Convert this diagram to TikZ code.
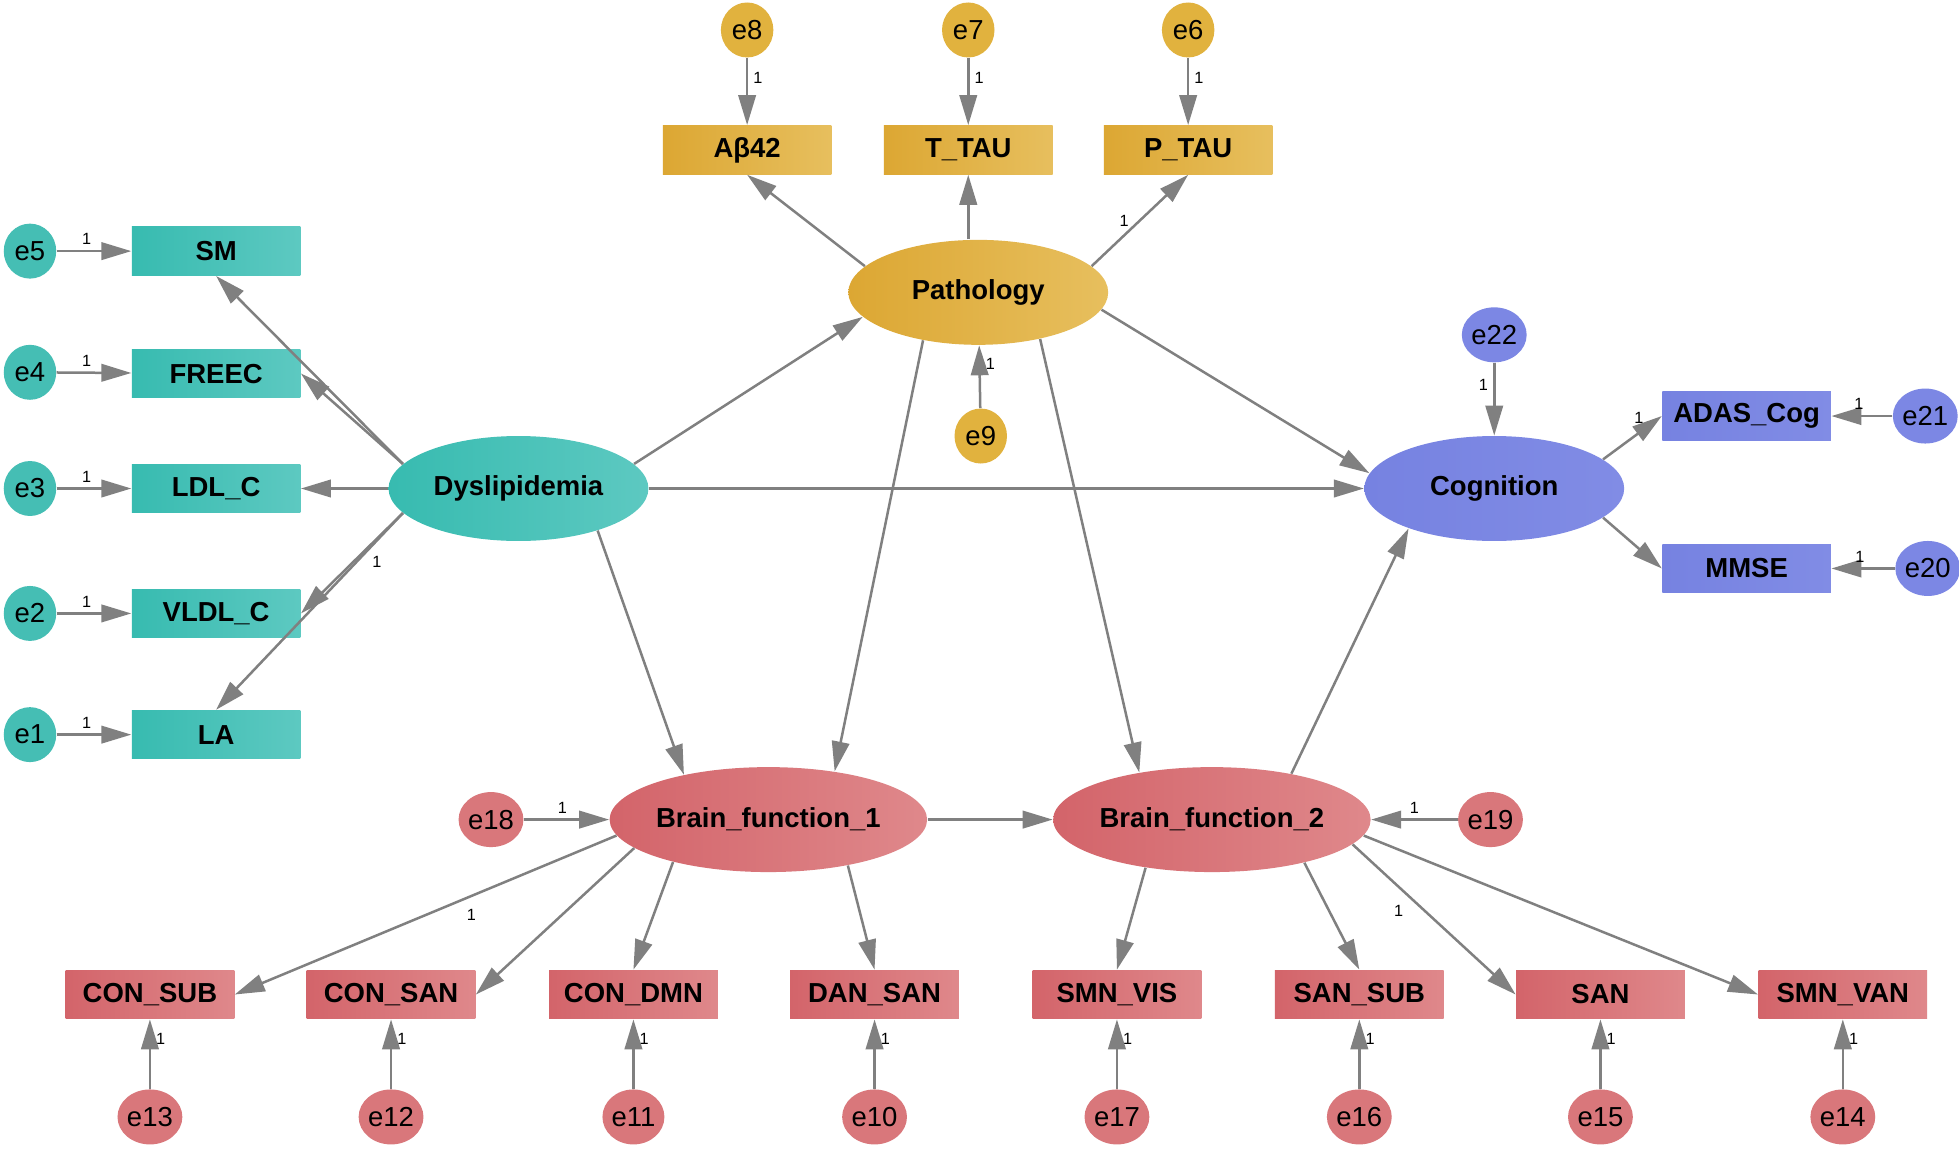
\documentclass[tikz,border=0pt]{standalone}
\usepackage{fontspec}
\setmainfont{Liberation Sans}
\usetikzlibrary{arrows.meta,shapes.geometric,calc}
\definecolor{tealA}{HTML}{37BBB0}
\definecolor{tealB}{HTML}{5DC9C1}
\definecolor{tealE}{HTML}{45BEB4}
\definecolor{goldA}{HTML}{DCA733}
\definecolor{goldB}{HTML}{E7BF5E}
\definecolor{goldE}{HTML}{E1B23E}
\definecolor{blueA}{HTML}{7682E1}
\definecolor{blueB}{HTML}{818CE5}
\definecolor{blueE}{HTML}{7C87E4}
\definecolor{redA}{HTML}{D3646A}
\definecolor{redB}{HTML}{DF888B}
\definecolor{redE}{HTML}{D9777B}
\definecolor{arrgray}{HTML}{808080}
\begin{document}
\begin{tikzpicture}[x=0.5pt,y=-0.5pt,
  obs/.style={rectangle,minimum width=67.5pt,minimum height=19.5pt,inner sep=0pt,font=\bfseries\fontsize{11}{13}\selectfont},
  lat/.style={ellipse,minimum width=104pt,minimum height=42pt,inner sep=0pt,font=\bfseries\fontsize{11}{13}\selectfont},
  err/.style={ellipse,minimum width=21pt,minimum height=22pt,inner sep=0pt,font=\fontsize{11}{13}\selectfont},
  tl/.style={left color=tealA,right color=tealB},
  gd/.style={left color=goldA,right color=goldB},
  bl/.style={left color=blueA,right color=blueB},
  rd/.style={left color=redA,right color=redB},
  tle/.style={fill=tealE},
  gde/.style={fill=goldE},
  ble/.style={fill=blueE},
  rde/.style={fill=redE},
  arw/.style={draw=arrgray,line width=1pt,-{Triangle[length=12pt,width=7pt]}},
  one/.style={font=\fontsize{6.5}{7}\selectfont,inner sep=1pt}]
\useasboundingbox[fill=white] (0,0) rectangle (1568,920);

% ---- Dyslipidemia block (teal)
\node[err,tle] (e5) at (24,201) {e5};
\node[err,tle] (e4) at (24,298) {e4};
\node[err,tle] (e3) at (24,391) {e3};
\node[err,tle] (e2) at (24,491) {e2};
\node[err,tle] (e1) at (24,588) {e1};
\node[obs,tl] (SM) at (173,201) {SM};
\node[obs,tl] (FREEC) at (173,299) {FREEC};
\node[obs,tl] (LDL) at (173,391) {LDL\_C};
\node[obs,tl] (VLDL) at (173,491) {VLDL\_C};
\node[obs,tl] (LA) at (173,588) {LA};
\node[lat,tl] (Dys) at (415,391) {Dyslipidemia};

% ---- Pathology block (gold)
\node[err,gde] (e8) at (598,24) {e8};
\node[err,gde] (e7) at (775,24) {e7};
\node[err,gde] (e6) at (951,24) {e6};
\node[obs,gd] (Ab) at (598,120) {Aβ42};
\node[obs,gd] (TT) at (775,120) {T\_TAU};
\node[obs,gd] (PT) at (951,120) {P\_TAU};
\node[lat,gd] (Path) at (783,234) {Pathology};
\node[err,gde] (e9) at (785,349) {e9};

% ---- Cognition block (blue)
\node[lat,bl] (Cog) at (1196,391) {Cognition};
\node[err,ble] (e22) at (1196,268) {e22};
\node[obs,bl] (ADAS) at (1398,333) {ADAS\_Cog};
\node[obs,bl] (MMSE) at (1398,455) {MMSE};
\node[err,ble] (e21) at (1541,333) {e21};
\node[err,ble] (e20) at (1543,455) {e20};

% ---- Brain function block (red)
\node[lat,rd] (BF1) at (615,656) {Brain\_function\_1};
\node[lat,rd] (BF2) at (970,656) {Brain\_function\_2};
\node[err,rde] (e18) at (393,656) {e18};
\node[err,rde] (e19) at (1193,656) {e19};
\node[obs,rd] (CS) at (120,796) {CON\_SUB};
\node[obs,rd] (CSA) at (313,796) {CON\_SAN};
\node[obs,rd] (CD) at (507,796) {CON\_DMN};
\node[obs,rd] (DS) at (700,796) {DAN\_SAN};
\node[obs,rd] (SV) at (894,796) {SMN\_VIS};
\node[obs,rd] (SS) at (1088,796) {SAN\_SUB};
\node[obs,rd] (SAN) at (1281,796) {SAN};
\node[obs,rd] (SVAN) at (1475,796) {SMN\_VAN};
\node[err,rde] (e13) at (120,894) {e13};
\node[err,rde] (e12) at (313,894) {e12};
\node[err,rde] (e11) at (507,894) {e11};
\node[err,rde] (e10) at (700,894) {e10};
\node[err,rde] (e17) at (894,894) {e17};
\node[err,rde] (e16) at (1088,894) {e16};
\node[err,rde] (e15) at (1281,894) {e15};
\node[err,rde] (e14) at (1475,894) {e14};

% ---- error arrows, left
\foreach \e/\b in {e5/SM,e4/FREEC,e3/LDL,e2/VLDL,e1/LA}
  \draw[arw] (\e) -- node[one,pos=0.4,above=1pt]{1} (\b);
% ---- error arrows, top
\foreach \e/\b in {e8/Ab,e7/TT,e6/PT}
  \draw[arw] (\e) -- node[one,pos=0.3,right=1pt]{1} (\b);
% ---- error arrows, bottom
\foreach \e/\b in {e13/CS,e12/CSA,e11/CD,e10/DS,e17/SV,e16/SS,e15/SAN,e14/SVAN}
  \draw[arw] (\e) -- node[one,pos=0.72,right=1pt]{1} (\b);
\draw[arw] (e9) -- node[one,pos=0.7,right=1pt]{1} (Path);
\draw[arw] (e22) -- node[one,pos=0.3,left=1pt]{1} (Cog);
\draw[arw] (e21) -- node[one,pos=0.55,above=1pt]{1} (ADAS);
\draw[arw] (e20) -- node[one,pos=0.55,above=1pt]{1} (MMSE);
\draw[arw] (e18) -- node[one,pos=0.45,above=1pt]{1} (BF1);
\draw[arw] (e19) -- node[one,pos=0.5,above=1pt]{1} (BF2);

% ---- Dyslipidemia loadings
\draw[arw] (Dys.168) -- (SM.south);
\draw[arw] (Dys.168) -- (FREEC.east);
\draw[arw] (Dys) -- (LDL);
\draw[arw] (Dys.192) -- (VLDL.east);
\draw[arw] (Dys.192) -- node[one,pos=0.25,right=5pt]{1} (LA.north);

% ---- Pathology loadings
\draw[arw] (Path.167) -- (Ab.south);
\draw[arw] (TT.south |- Path.north) -- (TT.south);
\draw[arw] (Path.13) -- node[one,pos=0.5,left=3pt]{1} (PT.south);

% ---- Cognition loadings
\draw[arw] (Cog.15) -- node[one,pos=0.75,above left=0pt]{1} (ADAS.west);
\draw[arw] (Cog.-15) -- (MMSE.west);

% ---- structural paths
\draw[arw] (Dys.12) -- (Path.192);
\draw[arw] (Dys) -- (Cog);
\draw[arw] (Dys.-28) -- (BF1.152);
\draw[arw] (Path.221) -- (BF1.36);
\draw[arw] (Path.-37) -- (BF2.147);
\draw[arw] (Path.-8) -- (Cog.173);
\draw[arw] (BF1) -- (BF2);
\draw[arw] (BF2.30) -- (Cog.205);

% ---- Brain function 1 loadings
\draw[arw] (BF1.186) -- node[one,pos=0.38,below=4pt]{1} (CS.east);
\draw[arw] (BF1.192) -- (CSA.east);
\draw[arw] (BF1.204) -- (CD.north);
\draw[arw] (BF1.-30) -- (DS.north);

% ---- Brain function 2 loadings
\draw[arw] (BF2.216) -- (SV.north);
\draw[arw] (BF2.-25) -- (SS.north);
\draw[arw] (BF2.-10) -- node[one,pos=0.44,left=7pt]{1} (SAN.west);
\draw[arw] (BF2.-6) -- (SVAN.west);
\end{tikzpicture}
\end{document}
